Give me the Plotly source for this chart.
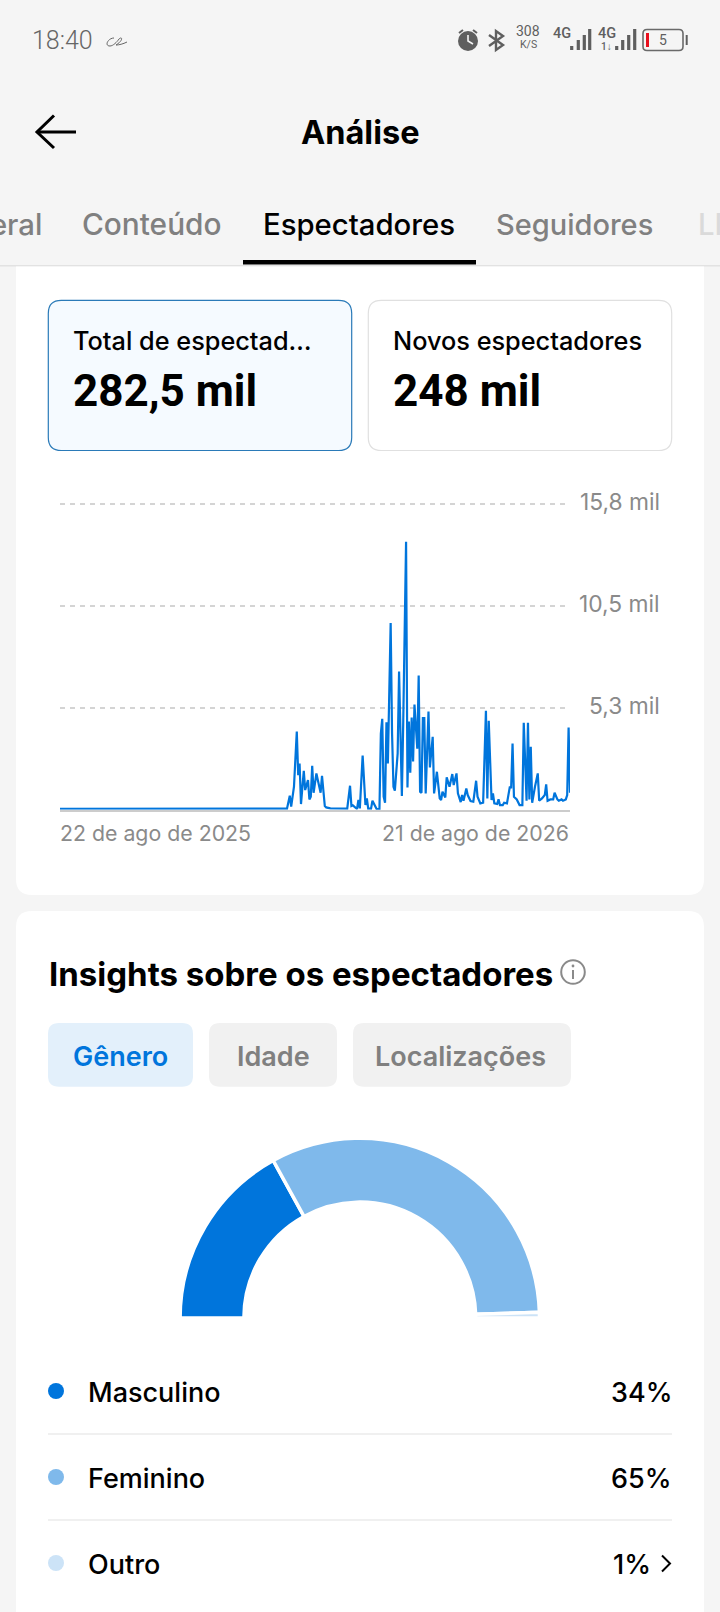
import plotly.graph_objects as go

W, H = 720, 1612

# Daily viewers (day 0 = 22 Aug 2025, day 364 = 21 Aug 2026)
days = [0, 162, 164, 165, 167, 169, 170, 171, 172, 174, 175, 177, 178, 179, 180, 181, 183, 184, 186, 187,
        189, 190, 193, 205, 207, 208, 209, 212, 213, 214, 216, 218, 219, 220, 222, 223, 225, 226, 228, 229,
        230, 231, 232, 233, 234, 236, 237, 238, 239, 241, 242, 244, 245, 247, 248, 249, 250, 251, 252, 253,
        255, 256, 257, 258, 259, 260, 261, 263, 264, 266, 267, 269, 271, 272, 273, 275, 276, 278, 280, 281,
        283, 284, 286, 287, 288, 290, 291, 293, 295, 297, 298, 300, 302, 304, 305, 306, 308, 309, 310, 312,
        313, 314, 316, 317, 319, 321, 322, 323, 324, 326, 328, 330, 331, 333, 334, 335, 336, 337, 339, 341,
        342, 344, 346, 347, 348, 350, 352, 353, 355, 356, 358, 359, 361, 362, 363, 364]
viewers = [50, 52, 722, 155, 1187, 4042, 1789, 2391, 292, 2012, 1015, 1531, 533, 671, 2270, 877, 1875, 1531, 877, 1754,
           189, 120, 69, 52, 1238, 189, 224, 34, 499, 69, 2804, 241, 585, 52, 52, 464, 120, 34, 34, 3939,
           4696, 671, 361, 4524, 2391, 9649, 3939, 1187, 980, 2907, 7138, 705, 4627, 13846, 1152, 4558, 1909, 4764, 2494, 5435,
           3148, 6932, 929, 877, 4730, 4730, 843, 5074, 2184, 3767, 843, 1961, 585, 499, 929, 636, 1668, 1187, 1840, 1273,
           1875, 843, 396, 757, 464, 1101, 757, 447, 413, 1496, 671, 327, 361, 5108, 585, 4592, 499, 843, 327, 292,
           533, 241, 241, 361, 327, 1152, 1152, 3423, 671, 533, 241, 241, 4489, 464, 4489, 533, 3251, 361, 1187, 1875,
           464, 585, 757, 1307, 464, 533, 533, 877, 533, 464, 533, 464, 533, 757, 4248, 877]

y_tick_vals = [5270, 10530, 15800]
y_tick_labels = ["5,3 mil", "10,5 mil", "15,8 mil"]
x_tick_vals = [0, 364]
x_tick_labels = ["22 de ago de 2025", "21 de ago de 2026"]

genders = ["Masculino", "Feminino", "Outro"]
shares = [34, 65, 1]
gender_colors = ["#0075DC", "#7FB9EB", "#CCE3F7"]

tabs = ["Geral", "Conteúdo", "Espectadores", "Seguidores", "LIVE"]
chips = ["Gênero", "Idade", "Localizações"]

shapes = []
annotations = []


def fx(x):
    return x / W


def fy(y):
    return 1 - y / H


def text(x, baseline, s, size, color="#000000", weight=400, anchor="left", family="Inter"):
    # annotations sit about 1.5px inside their anchor
    nudge = {"left": -1.5, "right": 1.5, "center": 0}[anchor]
    annotations.append(dict(
        x=fx(x + nudge), y=fy(baseline - size * 0.36), xref="paper", yref="paper", text=s, showarrow=False,
        xanchor=anchor, yanchor="middle", borderpad=0,
        font=dict(family=family, size=size, color=color, weight=weight),
    ))


def line_path(points, color, width, closed=False):
    d = "M " + " L ".join(f"{fx(x)},{fy(y)}" for x, y in points)
    shapes.append(dict(type="path", path=d + (" Z" if closed else ""), xref="paper", yref="paper",
                       line=dict(color=color, width=width)))


def round_rect(x0, y0, x1, y1, r, fill, border=None, bw=1, top=True, bottom=True):
    rt = r if top else 0
    rb = r if bottom else 0
    d = (f"M {fx(x0 + rt)},{fy(y0)} L {fx(x1 - rt)},{fy(y0)} Q {fx(x1)},{fy(y0)} {fx(x1)},{fy(y0 + rt)} "
         f"L {fx(x1)},{fy(y1 - rb)} Q {fx(x1)},{fy(y1)} {fx(x1 - rb)},{fy(y1)} "
         f"L {fx(x0 + rb)},{fy(y1)} Q {fx(x0)},{fy(y1)} {fx(x0)},{fy(y1 - rb)} "
         f"L {fx(x0)},{fy(y0 + rt)} Q {fx(x0)},{fy(y0)} {fx(x0 + rt)},{fy(y0)} Z")
    shapes.append(dict(type="path", path=d, xref="paper", yref="paper", layer="below", fillcolor=fill,
                       line=dict(color=border if border else fill, width=bw if border else 0)))


def rect(x0, y0, x1, y1, fill):
    shapes.append(dict(type="rect", x0=fx(x0), x1=fx(x1), y0=fy(y0), y1=fy(y1), xref="paper", yref="paper",
                       fillcolor=fill, line=dict(width=0), layer="below"))


def circle(cx, cy, r, fill=None, border=None, bw=0):
    shapes.append(dict(type="circle", x0=fx(cx - r), x1=fx(cx + r), y0=fy(cy + r), y1=fy(cy - r),
                       xref="paper", yref="paper", fillcolor=fill or "rgba(0,0,0,0)",
                       line=dict(color=border or "rgba(0,0,0,0)", width=bw)))


# status bar
GREY = "#5F5F5F"
text(32, 49, "18:40", 25, "#666666", 300, family="Roboto")
shapes.append(dict(type="path", xref="paper", yref="paper", line=dict(color="#666666", width=1),
                   path=f"M {fx(114)},{fy(38)} C {fx(108)},{fy(38)} {fx(104)},{fy(46)} {fx(110)},{fy(46)} "
                        f"C {fx(113)},{fy(46)} {fx(117)},{fy(42)} {fx(119)},{fy(39)} "
                        f"C {fx(122)},{fy(36)} {fx(124)},{fy(40)} {fx(116)},{fy(45)} "
                        f"C {fx(119)},{fy(45)} {fx(123)},{fy(44)} {fx(127)},{fy(42)}"))
circle(468, 41, 10, GREY)
line_path([(468, 35), (468, 41), (473, 44)], "#F5F5F5", 1.6)
line_path([(459, 33), (463, 30)], GREY, 2)
line_path([(477, 33), (473, 30)], GREY, 2)
line_path([(489, 35), (503, 45), (496, 50), (496, 31), (503, 36), (489, 46)], GREY, 2.4)
text(528, 36.5, "308", 14, GREY, anchor="center", family="Roboto")
text(528, 48.5, "K/S", 10.5, GREY, anchor="center", family="Roboto")
text(562, 39, "4G", 14.5, GREY, 500, anchor="center", family="Roboto")
text(607, 39, "4G", 14.5, GREY, 500, anchor="center", family="Roboto")
text(606, 50, "1↓", 10, GREY, 500, anchor="center", family="Roboto")
for bar_x, bar_top in [(571.7, 46), (578.3, 40), (584.3, 35), (589.7, 29)]:
    rect(bar_x - 1.6, bar_top, bar_x + 1.6, 50, GREY)
for bar_x, bar_top in [(616.7, 46), (622.7, 40), (628.7, 35), (634.7, 29)]:
    rect(bar_x - 1.6, bar_top, bar_x + 1.6, 50, GREY)
round_rect(643, 29.5, 683, 50.5, 4, "#F5F5F5", "#6A6A6A", 1.6)
rect(646, 33, 649, 47, "#E8101E")
text(662.7, 45, "5", 14, GREY, anchor="center", family="Roboto")
rect(685.7, 35, 687.7, 45, GREY)

# header and tabs
line_path([(37, 132), (76, 132)], "#000000", 3)
line_path([(54, 115.5), (37, 132), (54, 148)], "#000000", 3)
text(360, 144, "Análise", 32.5, weight=700, anchor="center")
text(41, 235, tabs[0], 29.3, "#808080", 500, anchor="right")
text(82.5, 235, tabs[1], 29.8, "#808080", 500)
text(263.5, 235, tabs[2], 29.3, "#000000", 500)
text(496.5, 235, tabs[3], 29, "#808080", 500)
text(698, 235, tabs[4], 29.3, "#DADADA", 500)
rect(0, 265, 720, 266.5, "#E2E2E2")
rect(243, 260, 476, 264.5, "#000000")

# white cards
round_rect(16, 266.5, 704, 895, 16, "#FFFFFF", top=False)
round_rect(16, 911, 704, 1640, 16, "#FFFFFF", bottom=False)

# metric tiles
round_rect(48.3, 300.3, 351.7, 450.5, 13, "#F5FAFF", "#2A7AB8", 1.2)
round_rect(368.3, 300.3, 671.7, 450.5, 13, "#FFFFFF", "#E0E0E0", 1.2)
text(73.5, 350, "Total de espectad…", 25.3, weight=500)
text(73.5, 407, "282,5 mil", 44, weight=700, family="Roboto")
text(393.5, 350, "Novos espectadores", 25.3, weight=500)
text(393.5, 407, "248 mil", 44, weight=700, family="Roboto")

# axis labels
for val, label in zip(y_tick_vals, y_tick_labels):
    annotations.append(dict(x=fx(661), xref="paper", y=val, yref="y", text=label, showarrow=False,
                            xanchor="right", yanchor="middle", yshift=2.5, borderpad=0,
                            font=dict(family="Inter", size=22.8, color="#8A8A8A")))
for val, label, side in zip(x_tick_vals, x_tick_labels, ["left", "right"]):
    annotations.append(dict(x=val, xref="x", y=fy(832.5), yref="paper", text=label, showarrow=False,
                            xanchor=side, yanchor="middle", borderpad=0, xshift=-1.5 if side == "left" else 0,
                            font=dict(family="Inter", size=21.3, color="#8A8A8A")))

# insights card
text(49, 986, "Insights sobre os espectadores", 33, weight=700)
circle(573, 972, 11.8, None, "#8A8A8A", 2)
circle(573, 966, 1.4, "#8A8A8A")
line_path([(573, 970), (573, 979)], "#8A8A8A", 2)

round_rect(48, 1023, 193, 1086.7, 11, "#E3F0FB")
round_rect(209, 1023, 337, 1086.7, 11, "#F1F1F1")
round_rect(353, 1023, 571, 1086.7, 11, "#F1F1F1")
text(120, 1066, chips[0], 27, "#0075DC", 600, anchor="center")
text(273, 1066, chips[1], 27, "#808080", 600, anchor="center")
text(461, 1066, chips[2], 27, "#808080", 600, anchor="center")

# legend rows
row_ys = [1391, 1477, 1563]
for name, share, col, ry in zip(genders, shares, gender_colors, row_ys):
    circle(56, ry, 8, col)
    text(88.5, ry + 11, name, 27, weight=500)
    text(650.7 if name == "Outro" else 671, ry + 11, f"{share}%", 27, weight=500, anchor="right")
rect(48, 1433, 672, 1435, "#F0F0F0")
rect(48, 1519, 672, 1521, "#F0F0F0")
line_path([(662, 1555.5), (670, 1563.5), (662, 1571.5)], "#000000", 2)

fig = go.Figure()

fig.add_trace(go.Scatter(
    x=days, y=viewers, mode="lines", line=dict(color="#0075DC", width=2.2),
    hoverinfo="skip", showlegend=False, cliponaxis=False,
))

# half donut: the last slice is the hidden lower half
donut_cx, donut_cy, donut_r = 359.8, 1318, 179.7
fig.add_trace(go.Pie(
    values=shares + [sum(shares)], sort=False, direction="clockwise", rotation=270, hole=0.645,
    marker=dict(colors=gender_colors + ["rgba(0,0,0,0)"], line=dict(color="#FFFFFF", width=[3.5, 3.5, 3.5, 0])),
    textinfo="none", hoverinfo="skip", showlegend=False,
    domain=dict(x=[fx(donut_cx - donut_r), fx(donut_cx + donut_r)], y=[fy(donut_cy + donut_r), fy(donut_cy - donut_r)]),
))

# y range runs a little past the top tick so that its gridline is drawn
y_top = 16000
plot_top = 809.7 - 305.7 * y_top / 15800

fig.update_layout(
    width=W, height=H, margin=dict(l=0, r=0, t=0, b=0), autosize=False,
    paper_bgcolor="#F5F5F5", plot_bgcolor="rgba(0,0,0,0)",
    shapes=shapes, annotations=annotations, showlegend=False,
    font=dict(family="Inter"),
    xaxis=dict(domain=[fx(60), fx(570)], range=[0, 364], showgrid=False, zeroline=False, showticklabels=False,
               ticks="", showline=True, linecolor="#CCCCCC", linewidth=2, fixedrange=True),
    yaxis=dict(domain=[fy(809.7), fy(plot_top)], range=[0, y_top], tickvals=y_tick_vals, showticklabels=False, ticks="",
               showgrid=True, gridcolor="#D4D4D4", gridwidth=1.5, griddash="5px,5px", zeroline=False,
               showline=False, fixedrange=True),
)

fig.write_html("out.html", config=dict(displayModeBar=False),
               post_script="document.body.style.margin='0';document.body.style.overflow='hidden';")
